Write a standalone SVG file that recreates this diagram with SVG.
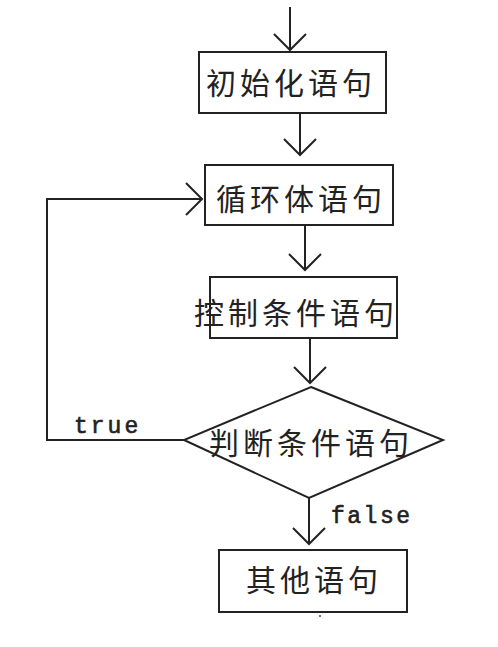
<svg xmlns="http://www.w3.org/2000/svg" width="498" height="647" viewBox="0 0 498 647">
<style>
.box{fill:#fff;stroke:#222;stroke-width:2}
.cn{font-family:"Noto Sans CJK SC","Noto Sans",sans-serif;font-size:30px;letter-spacing:4px;fill:#222}
.en{font-family:"Liberation Mono","DejaVu Sans Mono",monospace;font-size:23px;fill:#222;stroke:#222;stroke-width:0.6}
.wire{fill:none;stroke:#222;stroke-width:2}
</style>
<defs>
<marker id="arr" markerUnits="userSpaceOnUse" markerWidth="40" markerHeight="40" refX="0" refY="0" viewBox="-20 -20 40 40" orient="auto" overflow="visible">
<path d="M-16,-16 L0,0 L-16,16" fill="none" stroke="#222" stroke-width="2"/>
</marker>
</defs>
<rect width="498" height="647" fill="#fff"/>
<g id="connectors">
<path class="wire" d="M290,7 V50" marker-end="url(#arr)"/>
<path class="wire" d="M300,113 V155" marker-end="url(#arr)"/>
<path class="wire" d="M305,225 V270" marker-end="url(#arr)"/>
<path class="wire" d="M310,338 V383" marker-end="url(#arr)"/>
<path class="wire" d="M184,440 H47 V199 H202" marker-end="url(#arr)"/>
<path class="wire" d="M309,498 V544" marker-end="url(#arr)"/>
<text class="en" x="74" y="433" letter-spacing="3">true</text>
<text class="en" x="331" y="523" letter-spacing="2.5">false</text>
</g>
<g id="init">
<rect class="box" x="199" y="52" width="187" height="61"/>
<text class="cn" x="206" y="94">初始化语句</text>
</g>
<g id="body">
<rect class="box" x="205" y="165" width="188" height="60"/>
<text class="cn" x="216" y="210">循环体语句</text>
</g>
<g id="control">
<rect class="box" x="210" y="277" width="187" height="61"/>
<text class="cn" x="194" y="324" letter-spacing="3.5">控制条件语句</text>
</g>
<g id="judge">
<polygon class="box" points="311,387 443,440 309,498 184,440"/>
<text class="cn" x="209" y="454" letter-spacing="4">判断条件语句</text>
</g>
<g id="other">
<rect class="box" x="219" y="550" width="188" height="62"/>
<text class="cn" x="246" y="591" letter-spacing="4.5">其他语句</text>
</g>
<circle cx="320" cy="616" r="1" fill="#444"/>
</svg>
